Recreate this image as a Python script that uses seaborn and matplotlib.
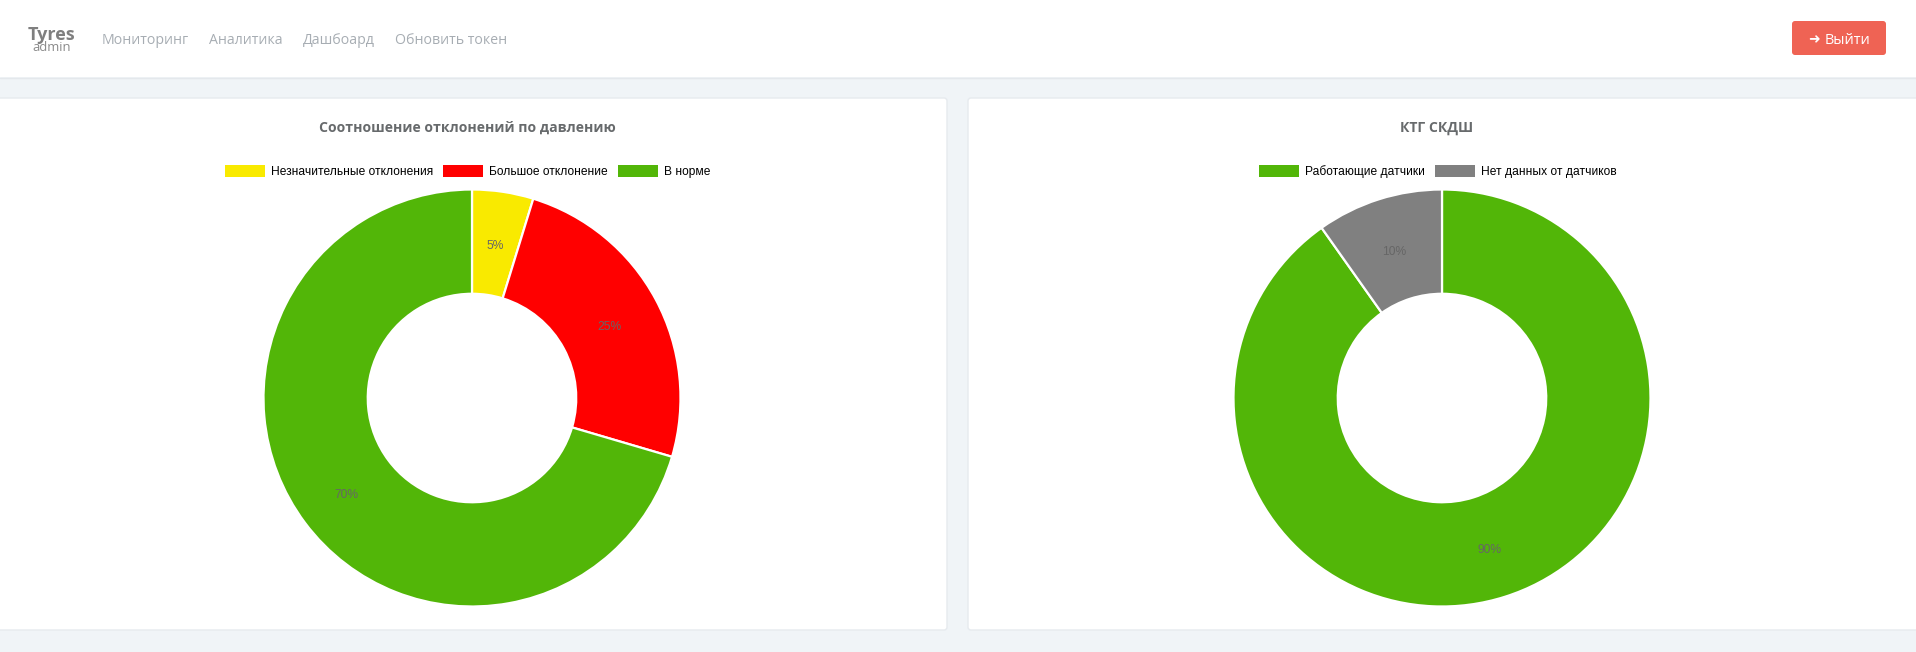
import matplotlib
matplotlib.use("Agg")
import matplotlib.pyplot as plt
import seaborn as sns
from matplotlib.patches import Rectangle, FancyBboxPatch

W, H = 1916, 652
sns.set_theme(style="white")
plt.rcParams['font.family'] = ['Open Sans', 'DejaVu Sans']

left_title = "Соотношение отклонений по давлению"
left_labels = ["Незначительные отклонения", "Большое отклонение", "В норме"]
left_values = [4.75, 24.8, 70.45]
left_pct = ["5%", "25%", "70%"]
left_colors = ["#f9ea00", "#ff0000", "#52b608"]

right_title = "КТГ СКДШ"
right_labels = ["Работающие датчики", "Нет данных от датчиков"]
right_values = [90.2, 9.8]
right_pct = ["90%", "10%"]
right_colors = ["#52b608", "#808080"]

menu_labels = ["Мониторинг", "Аналитика", "Дашбоард", "Обновить токен"]
menu_x = [102, 209, 303, 395]

fig = plt.figure(figsize=(W / 100, H / 100), dpi=100, facecolor="#f0f4f7")
bg = fig.add_axes([0, 0, 1, 1])
bg.set_xlim(0, W)
bg.set_ylim(H, 0)
bg.axis("off")


def px(v):
    return v * 0.72


# header
bg.add_patch(Rectangle((0, 0), W, 77, fc="white", ec="none"))
bg.plot([0, W], [77.5, 77.5], color="#e4e8ec", lw=1)
bg.text(51.5, 34.5, "Tyres", fontsize=px(18), fontweight="bold", color="#7f7f7f", ha="center", va="center")
bg.text(51.5, 47.5, "admin", fontsize=px(13), color="#8a8a8a", ha="center", va="center")
for x, s in zip(menu_x, menu_labels):
    bg.text(x, 40.5, s, fontsize=px(14.1), color="#a7adb3", ha="left", va="center")

# logout button
bg.add_patch(FancyBboxPatch((1794, 23), 90, 30, boxstyle="round,pad=2,rounding_size=3", fc="#ef6354", ec="none"))
bg.text(1814.5, 39.5, "➜", fontsize=px(14), color="white", ha="center", va="center", family="DejaVu Sans")
bg.text(1825, 40.5, "Выйти", fontsize=px(14.5), color="white", ha="left", va="center")

# cards
for x0, x1 in [(-10, 947), (968, W + 10)]:
    bg.add_patch(FancyBboxPatch((x0 + 2, 100), x1 - x0 - 4, 528,
                                boxstyle="round,pad=2,rounding_size=3", fc="white", ec="#e6eaee", lw=1))


def donut(cx, cy, r, title, title_x, labels, values, pct, colors, legend_x):
    ax = fig.add_axes([(cx - r) / W, 1 - (cy + r) / H, 2 * r / W, 2 * r / H])
    ax.set_facecolor("none")
    pct_iter = iter(pct)
    wedges, _, autotexts = ax.pie(
        values, colors=colors, startangle=90, counterclock=False, radius=1,
        wedgeprops=dict(width=0.5, edgecolor="white", linewidth=1.6),
        autopct=lambda p: next(pct_iter), pctdistance=0.75,
        textprops=dict(fontsize=px(12), color="#666666", family="Liberation Sans"),
    )
    ax.set_xlim(-1, 1)
    ax.set_ylim(-1, 1)
    for w in wedges:
        w.set_clip_on(False)
    for t in autotexts:
        tx, ty = t.get_position()
        t.set_position((tx, ty - 0.015))
    bg.text(title_x, 128, title, fontsize=px(14), fontweight="bold", color="#676a6c", ha="center", va="center")
    leg = fig.legend(
        wedges, labels, ncol=len(labels), loc="center",
        bbox_to_anchor=(legend_x / W, 1 - 171.5 / H), frameon=False,
        prop=dict(family="Liberation Sans", size=px(12)),
        labelcolor="black", handlelength=3.33, handleheight=1.16,
        handletextpad=0.5, columnspacing=0.83, borderpad=0, borderaxespad=0,
    )
    for h in leg.legend_handles:
        h.set_linewidth(0)


donut(472, 398, 208.5, left_title, 467, left_labels, left_values, left_pct, left_colors, 467.7)
donut(1442, 398, 208.5, right_title, 1437, right_labels, right_values, right_pct, right_colors, 1437.7)

fig.savefig("out.png", dpi=100, facecolor=fig.get_facecolor())
